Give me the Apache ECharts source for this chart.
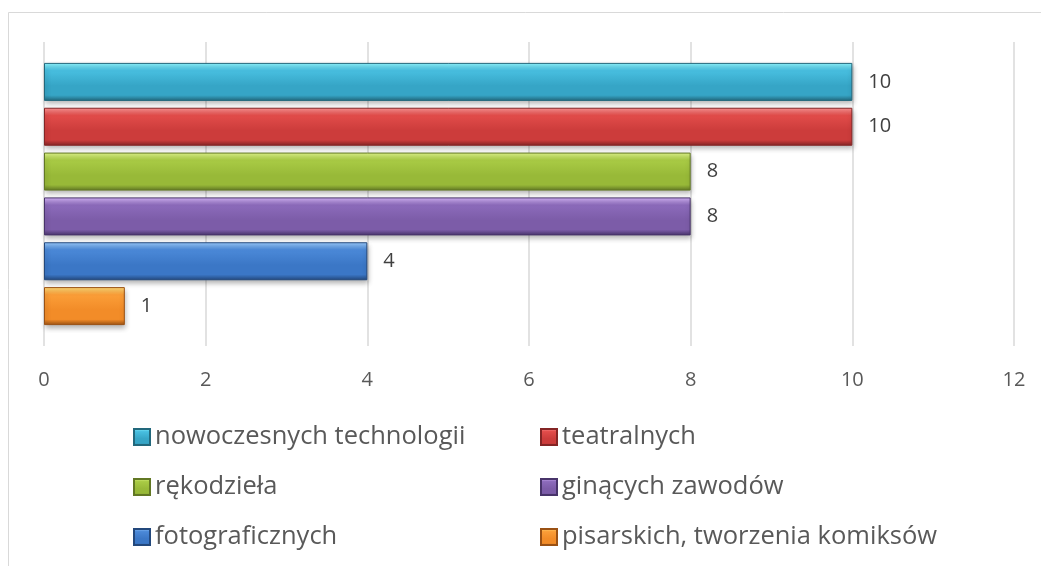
<!DOCTYPE html>
<html lang="pl">
<head>
<meta charset="utf-8">
<title>Zajęcia</title>
<script src="https://cdn.jsdelivr.net/npm/echarts@6/dist/echarts.min.js"></script>
<style>
  html, body { margin: 0; padding: 0; background: #ffffff; }
  #chart { width: 1041px; height: 566px; }
</style>
</head>
<body>
<div id="chart"></div>
<script>
// Series names (one bar each) and their counts
const seriesNames = [
  'nowoczesnych technologii',
  'teatralnych',
  'rękodzieła',
  'ginących zawodów',
  'fotograficznych',
  'pisarskich, tworzenia komiksów'
];
const seriesValues = [10, 10, 8, 8, 4, 1];
const categories = [''];
const axisTicks = [0, 2, 4, 6, 8, 10, 12];

// Bevel-like shading for each bar: highlight, upper body, body, shadow edge
const shades = [
  ['#8ff6ff', '#48bfe0', '#36a5c6', '#22687c'],
  ['#ff9696', '#e24c4a', '#cc3c3b', '#842525'],
  ['#e2f88c', '#a9cb45', '#98b938', '#627824'],
  ['#d6b6fa', '#8c6bbb', '#7c5ca8', '#48346a'],
  ['#9ccdff', '#4b89d8', '#3b77c6', '#23487c'],
  ['#ffdc78', '#fb9e38', '#f28c28', '#9a5114']
];

function bevel(c) {
  return {
    type: 'linear', x: 0, y: 0, x2: 0, y2: 1,
    colorStops: [
      { offset: 0, color: c[0] },
      { offset: 0.2, color: c[1] },
      { offset: 0.6, color: c[2] },
      { offset: 0.85, color: c[2] },
      { offset: 1, color: c[3] }
    ]
  };
}

const FONT = '"Open Sans", "Liberation Sans", sans-serif';

const series = seriesNames.map((name, i) => ({
  name: name,
  type: 'bar',
  data: [seriesValues[i]],
  barWidth: 38,
  barGap: '18%',
  itemStyle: {
    color: bevel(shades[i]),
    borderColor: shades[i][3],
    borderWidth: 1,
    shadowColor: 'rgba(0,0,0,0.3)',
    shadowBlur: 5,
    shadowOffsetX: 1,
    shadowOffsetY: 3
  },
  label: {
    show: true,
    position: 'right',
    distance: 16,
    color: '#404040',
    fontFamily: FONT,
    fontSize: 20
  },
  emphasis: { disabled: true }
}));

const legendText = {
  color: '#595959',
  fontFamily: FONT,
  fontSize: 25.5,
  lineHeight: 30
};

function legendColumn(names, left) {
  return {
    data: names,
    orient: 'vertical',
    left: left,
    top: 417,
    itemWidth: 16,
    itemHeight: 16,
    itemGap: 20,
    icon: 'rect',
    selectedMode: false,
    textStyle: legendText
  };
}

const chart = echarts.init(document.getElementById('chart'), null, { renderer: 'canvas' });
chart.setOption({
  animation: false,
  backgroundColor: '#ffffff',
  graphic: [{
    type: 'rect',
    shape: { x: 8.5, y: 12.5, width: 1200, height: 700 },
    style: { fill: 'none', stroke: '#d9d9d9', lineWidth: 1 },
    silent: true,
    z: -1
  }],
  grid: { left: 44, right: 27, top: 42, bottom: 220, containLabel: false },
  xAxis: {
    type: 'value',
    min: axisTicks[0],
    max: axisTicks[axisTicks.length - 1],
    interval: axisTicks[1] - axisTicks[0],
    axisLine: { show: false },
    axisTick: { show: false },
    splitLine: { show: true, lineStyle: { color: '#d9d9d9', width: 1.5 } },
    axisLabel: {
      color: '#595959',
      fontFamily: FONT,
      fontSize: 20,
      margin: 24
    }
  },
  yAxis: {
    type: 'category',
    data: categories,
    inverse: true,
    axisLine: { show: false },
    axisTick: { show: false },
    axisLabel: { show: false }
  },
  legend: [
    legendColumn([seriesNames[0], seriesNames[2], seriesNames[4]], 128),
    legendColumn([seriesNames[1], seriesNames[3], seriesNames[5]], 535)
  ],
  series: series
});
</script>
</body>
</html>
